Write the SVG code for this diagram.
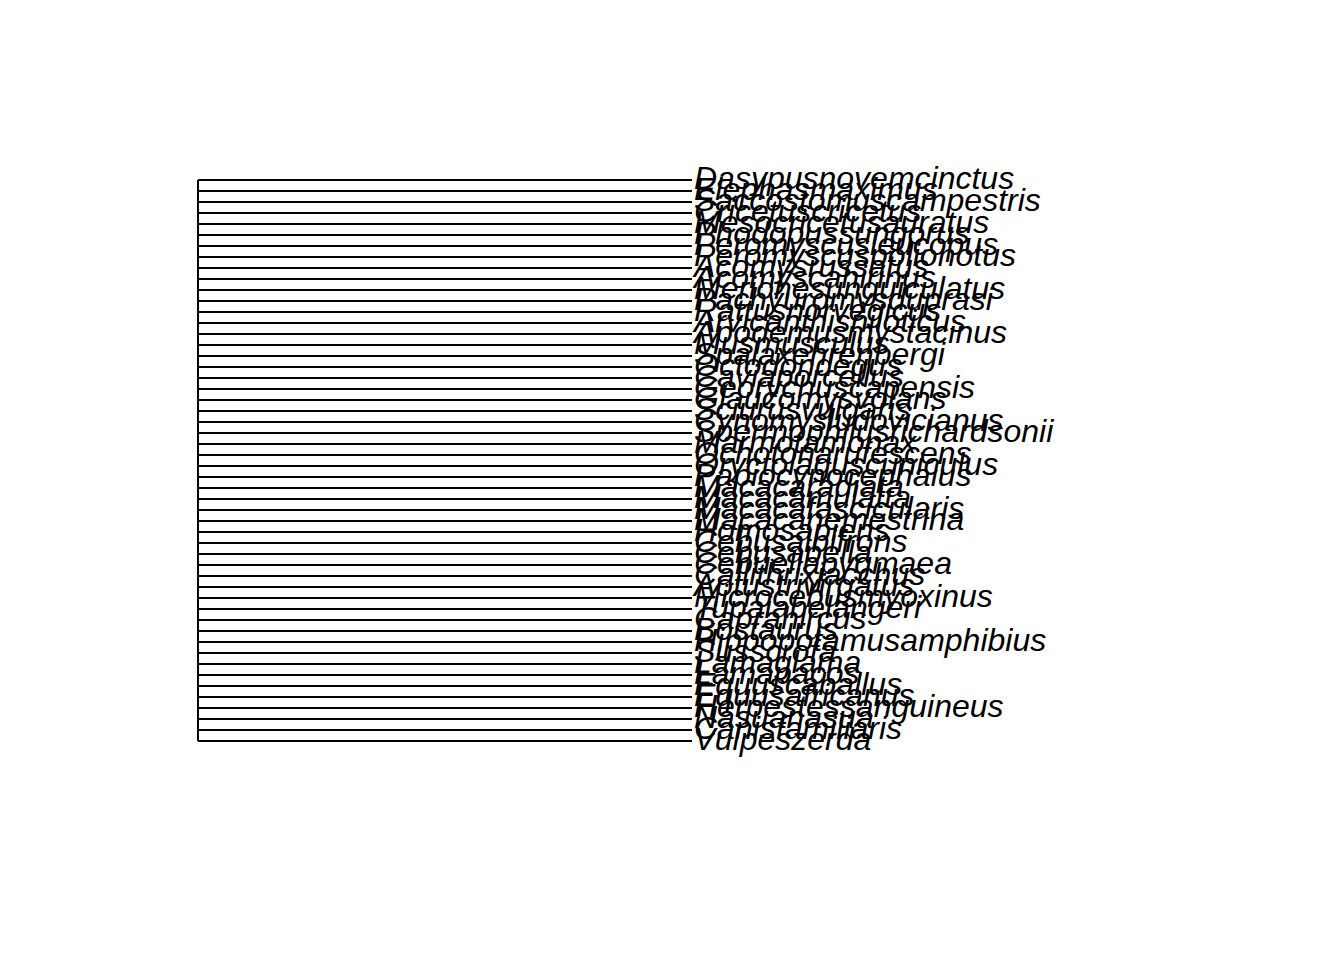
<svg xmlns="http://www.w3.org/2000/svg" width="1344" height="960" viewBox="0 0 1344 960">
<style>
.e{stroke:#000;stroke-width:2;fill:none}
.t{font-family:"Liberation Sans",Arial,sans-serif;font-style:italic;font-size:32px;fill:#000}
</style>
<rect width="1344" height="960" fill="#fff"/>
<g id="edges" class="e">
<line x1="198" y1="180" x2="198" y2="741"/>
<path d="M198 180H692M198 191H692M198 202H692M198 213H692M198 224H692M198 235H692M198 246H692M198 257H692M198 268H692M198 279H692M198 290H692M198 301H692M198 312H692M198 323H692M198 334H692M198 345H692M198 356H692M198 367H692M198 378H692M198 389H692M198 400H692M198 411H692M198 422H692M198 433H692M198 444H692M198 455H692M198 466H692M198 477H692M198 488H692M198 499H692M198 510H692M198 521H692M198 532H692M198 543H692M198 554H692M198 565H692M198 576H692M198 587H692M198 598H692M198 609H692M198 620H692M198 631H692M198 642H692M198 653H692M198 664H692M198 675H692M198 686H692M198 697H692M198 708H692M198 719H692M198 730H692M198 741H692"/>
</g>
<g id="tips" class="t" transform="translate(0,-2.5)">
<text id="t0" x="694" y="191">Dasypusnovemcinctus</text>
<text id="t1" x="694" y="202">Elephasmaximus</text>
<text id="t2" x="694" y="213">Saccostomuscampestris</text>
<text id="t3" x="694" y="224">Cricetuscricetus</text>
<text id="t4" x="694" y="235">Mesocricetusauratus</text>
<text id="t5" x="694" y="246">Phodopussungorus</text>
<text id="t6" x="694" y="257">Peromyscusleucopus</text>
<text id="t7" x="694" y="268">Peromyscuspolionotus</text>
<text id="t8" x="694" y="279">Acomysrussatus</text>
<text id="t9" x="694" y="290">Acomyscahirinus</text>
<text id="t10" x="694" y="301">Merionesunguiculatus</text>
<text id="t11" x="694" y="312">Pachyuromysduprasi</text>
<text id="t12" x="694" y="323">Rattusnorvegicus</text>
<text id="t13" x="694" y="334">Arvicanthisniloticus</text>
<text id="t14" x="694" y="345">Apodemusmystacinus</text>
<text id="t15" x="694" y="356">Musmusculus</text>
<text id="t16" x="694" y="367">Spalaxehrenbergi</text>
<text id="t17" x="694" y="378">Octodondegus</text>
<text id="t18" x="694" y="389">Caviaporcellus</text>
<text id="t19" x="694" y="400">Georychuscapensis</text>
<text id="t20" x="694" y="411">Glaucomysvolans</text>
<text id="t21" x="694" y="422">Sciurusvulgaris</text>
<text id="t22" x="694" y="433">Cynomysludovicianus</text>
<text id="t23" x="694" y="444">Spermophilusrichardsonii</text>
<text id="t24" x="694" y="455">Marmotamonax</text>
<text id="t25" x="694" y="466">Ochotonarufescens</text>
<text id="t26" x="694" y="477">Oryctolaguscuniculus</text>
<text id="t27" x="694" y="488">Papiocynocephalus</text>
<text id="t28" x="694" y="499">Macacaradiata</text>
<text id="t29" x="694" y="510">Macacamulatta</text>
<text id="t30" x="694" y="521">Macacafascicularis</text>
<text id="t31" x="694" y="532">Macacanemestrina</text>
<text id="t32" x="694" y="543">Homosapiens</text>
<text id="t33" x="694" y="554">Cebusalbifrons</text>
<text id="t34" x="694" y="565">Cebusapella</text>
<text id="t35" x="694" y="576">Cebuellapygmaea</text>
<text id="t36" x="694" y="587">Callithrixjacchus</text>
<text id="t37" x="694" y="598">Aotustrivirgatus</text>
<text id="t38" x="694" y="609">Microcebusmyoxinus</text>
<text id="t39" x="694" y="620">Tupaiabelangeri</text>
<text id="t40" x="694" y="631">Caprahircus</text>
<text id="t41" x="694" y="642">Bostaurus</text>
<text id="t42" x="694" y="653">Hippopotamusamphibius</text>
<text id="t43" x="694" y="664">Susscrofa</text>
<text id="t44" x="694" y="675">Lamaglama</text>
<text id="t45" x="694" y="686">Lamapacos</text>
<text id="t46" x="694" y="697">Equuscaballus</text>
<text id="t47" x="694" y="708">Equusafricanus</text>
<text id="t48" x="694" y="719">Herpestessanguineus</text>
<text id="t49" x="694" y="730">Nasuanasua</text>
<text id="t50" x="694" y="741">Canisfamiliaris</text>
<text id="t51" x="694" y="752">Vulpeszerda</text>
</g>
</svg>
